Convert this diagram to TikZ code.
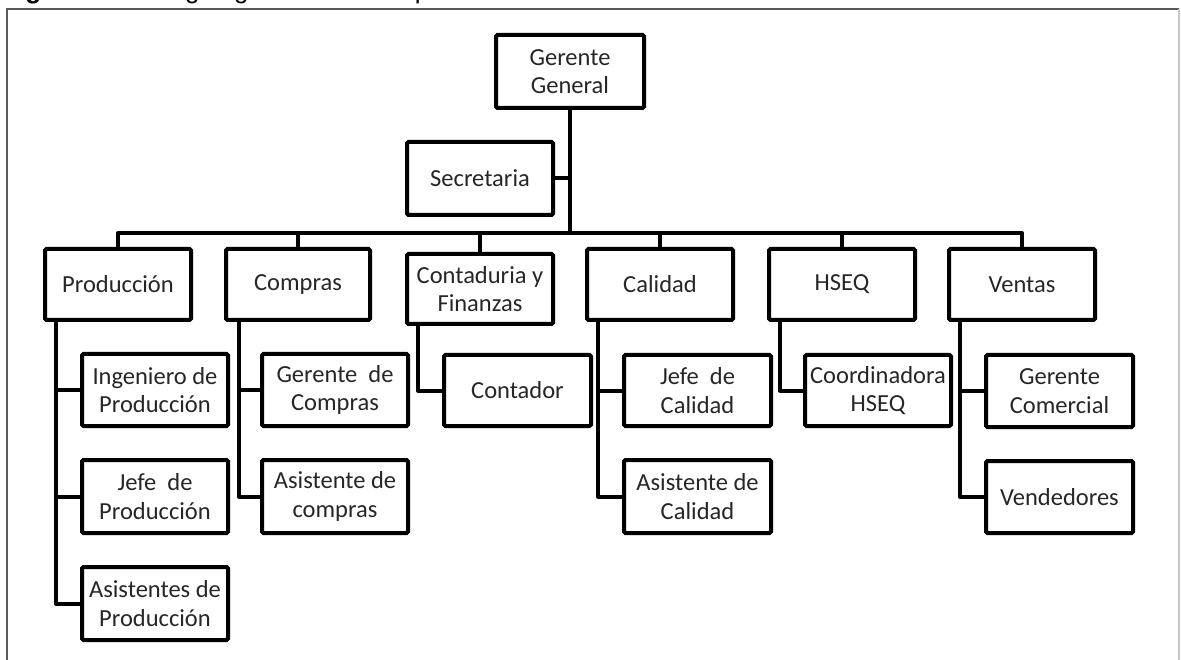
\documentclass[tikz,border=0pt]{standalone}
\usepackage{fontspec}
\setmainfont{Carlito}
\newfontfamily\capfont{Liberation Sans}
\begin{document}
\begin{tikzpicture}[x=1pt,y=-1pt,
  unit/.style={draw=black, line width=4pt, rounded corners=1.5pt,
    minimum width=146pt, minimum height=72pt, inner sep=0pt,
    align=center, text=black!85, font=\fontsize{24.5}{28.5}\selectfont},
  dept/.style={unit, minimum height=71pt},
  link/.style={draw=black, line width=4pt, line join=round},
  framerule/.style={line width=1.6pt}]
\useasboundingbox (0,0) rectangle (1181,660);

% caption of the figure, mostly outside the page
\begin{scope}
  \clip (0,0) rectangle (1181,660);
  \node[anchor=base west, inner sep=0pt, font=\capfont\fontsize{26}{30}\selectfont\bfseries] (figlabel) at (2,-1.5) {Figura};
  \node[anchor=base west, inner sep=0pt, font=\capfont\fontsize{26}{30}\selectfont] (figtitle) at (156,-1.5) {Organigrama de la empresa};
\end{scope}

% frame
\draw[framerule, draw=black!65] (7,662) -- (7,9) -- (1179,9);
\draw[framerule, draw=black!22] (1179,9) -- (1179,662);

% top level
\node[unit, minimum width=148pt, minimum height=73pt] (gg) at (570,71.5) {Gerente\\General};
\node[unit, minimum height=73pt] (sec) at (480,178.5) {Secretaria};

% departments
\node[dept] (prod) at (118,284.5) {Producción};
\node[dept, minimum width=144pt] (comp) at (298,284.5) {Compras};
\node[dept, minimum height=70pt] (cont) at (480,289) {Contaduria y\\Finanzas};
\node[dept] (cal) at (660,284.5) {Calidad};
\node[dept] (hseq) at (842,284.5) {HSEQ};
\node[dept] (vent) at (1022,284.5) {Ventas};

% staff
\node[unit] (ingprod) at (155,390) {Ingeniero de\\Producción};
\node[unit, minimum height=73pt] (jefeprod) at (155,496.5) {Jefe\ \ de\\Producción};
\node[unit, minimum height=73pt] (asisprod) at (155,603.5) {Asistentes de\\Producción};
\node[unit] (gercomp) at (335,390) {Gerente\ \ de\\Compras};
\node[unit, minimum height=73pt] (asiscomp) at (335,496.5) {Asistente de\\compras};
\node[unit, minimum width=147pt, minimum height=71pt] (contador) at (517.5,390.5) {Contador};
\node[unit, minimum width=147pt, minimum height=71pt] (jefecal) at (697.5,390.5) {Jefe\ \ de\\Calidad};
\node[unit, minimum width=147pt, minimum height=73pt] (asiscal) at (697.5,496.5) {Asistente de\\Calidad};
\node[unit, minimum height=71pt] (coord) at (878,390.5) {Coordinadora\\HSEQ};
\node[unit, minimum width=147pt, minimum height=72pt] (gercom) at (1059.5,391) {Gerente\\Comercial};
\node[unit, minimum width=147pt, minimum height=72pt] (vend) at (1059.5,497) {Vendedores};

% main trunk and bus
\coordinate (bus) at (570,233);
\draw[link] (gg.south) -- (gg.south |- bus);
\draw[link] (sec.east) -- (sec.east -| gg.south);
\draw[link] (prod.north) |- (bus);
\draw[link] (vent.north) |- (bus);
\foreach \d in {comp,cont,cal,hseq}
  \draw[link] (\d.north) -- (\d.north |- bus);

% stems below each department
\coordinate (prodstem) at ([xshift=13pt]prod.south west);
\coordinate (compstem) at ([xshift=15pt]comp.south west);
\coordinate (contstem) at ([xshift=13pt]cont.south west);
\coordinate (calstem) at ([xshift=13pt]cal.south west);
\coordinate (hseqstem) at ([xshift=13pt]hseq.south west);
\coordinate (ventstem) at ([xshift=13pt]vent.south west);

\draw[link] (prodstem) |- (asisprod.west);
\draw[link] (ingprod.west) -- (ingprod.west -| prodstem);
\draw[link] (jefeprod.west) -- (jefeprod.west -| prodstem);

\draw[link] (compstem) |- (asiscomp.west);
\draw[link] (gercomp.west) -- (gercomp.west -| compstem);

\draw[link] (contstem) |- (contador.west);

\draw[link] (calstem) |- (asiscal.west);
\draw[link] (jefecal.west) -- (jefecal.west -| calstem);

\draw[link] (hseqstem) |- (coord.west);

\draw[link] (ventstem) |- (vend.west);
\draw[link] (gercom.west) -- (gercom.west -| ventstem);
\end{tikzpicture}
\end{document}
